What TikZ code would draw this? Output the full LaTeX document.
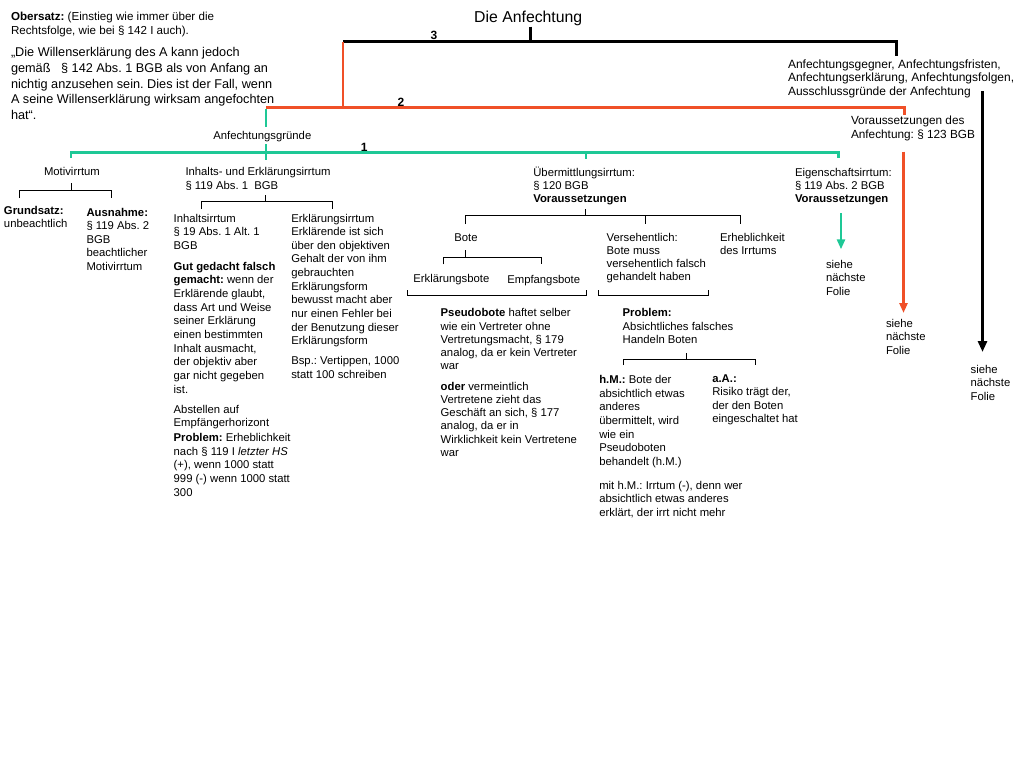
\documentclass[tikz,border=0pt]{standalone}
\usepackage{fontspec}
\setmainfont{Liberation Sans}
\usetikzlibrary{arrows.meta}
\definecolor{tealc}{RGB}{30,200,150}
\definecolor{orngc}{RGB}{240,80,40}
\newcommand\myfs[2]{\fontsize{#1}{#2}\selectfont\frenchspacing}
\newcommand\ms{\rule{0pt}{11pt}}
\frenchspacing
\begin{document}
\begin{tikzpicture}[x=1pt,y=-1pt,
  txt/.style={anchor=north west, inner sep=0pt, outer sep=0pt, align=left},
  one/.style={anchor=base west, inner sep=0pt, outer sep=0pt, font=\myfs{11.3}{13.7}},
  num/.style={anchor=base, inner sep=0pt, outer sep=0pt, font=\myfs{12}{14}\bfseries},
  blk/.style={line width=3pt, black},
  org/.style={line width=2.5pt, orngc},
  tl/.style={line width=2.5pt, tealc},
  thin/.style={line width=0.9pt, black},
  tip/.style={-{Triangle[length=10pt,width=8pt]}},
  ]
\fill[white] (0,0) rectangle (1024,768);
\useasboundingbox (0,0) rectangle (1024,768);

% ---------- texts ----------
\node[txt, font=\myfs{11.6}{14.5}] (obersatz) at (11,9.5)
  {\ms\textbf{Obersatz:} (Einstieg wie immer über die\\ Rechtsfolge, wie bei § 142 I auch).};
\node[txt, font=\myfs{12.7}{15.7}] (quote) at (11,45.7)
  {\ms„Die Willenserklärung des A kann jedoch\\ gemäß~~~§ 142 Abs. 1 BGB als von Anfang an\\ nichtig anzusehen sein. Dies ist der Fall, wenn\\ A seine Willenserklärung wirksam angefochten\\ hat“.};
\node[anchor=base west, inner sep=0pt, font=\myfs{15.8}{18}] (title) at (474,22.7) {Die Anfechtung};
\node[num] (n3) at (434,39.3) {3};
\node[num] (n2) at (401,106) {2};
\node[num] (n1) at (364.3,151) {1};

\node[txt, font=\myfs{12}{13.4}] (gegner) at (788,57.3)
  {\ms Anfechtungsgegner, Anfechtungsfristen,\\ Anfechtungserklärung, Anfechtungsfolgen,\\ Ausschlussgründe der Anfechtung};
\node[txt, font=\myfs{11.8}{14}] (vor123) at (851,113.3)
  {\ms Voraussetzungen des\\ Anfechtung: § 123 BGB};
\node[one] (gruende) at (213.3,139.3) {Anfechtungsgründe};

\node[one] (motiv) at (44,175.3) {Motivirrtum};
\node[txt, font=\myfs{11.3}{13.7}] (inhalts) at (185.5,164.3)
  {\ms Inhalts- und Erklärungsirrtum\\ § 119 Abs. 1~~BGB};
\node[txt, font=\myfs{11.3}{13.2}] (uebermitt) at (533.3,165)
  {\ms Übermittlungsirrtum:\\ § 120 BGB\\ \textbf{Voraussetzungen}};
\node[txt, font=\myfs{11.3}{13.2}] (eigen) at (795,165)
  {\ms Eigenschaftsirrtum:\\ § 119 Abs. 2 BGB\\ \textbf{Voraussetzungen}};

\node[txt, font=\myfs{11.3}{13}] (grundsatz) at (4,203.7)
  {\ms\textbf{Grundsatz:}\\ unbeachtlich};
\node[txt, font=\myfs{11.3}{13.5}] (ausnahme) at (86.5,205)
  {\ms\textbf{Ausnahme:}\\ § 119 Abs. 2\\ BGB\\ beachtlicher\\ Motivirrtum};

\node[txt, font=\myfs{11.3}{13.7}] (inhaltsirrtum) at (173.7,211)
  {\ms Inhaltsirrtum\\ § 19 Abs. 1 Alt. 1\\ BGB\\[6.9pt]
   \textbf{Gut gedacht falsch}\\ \textbf{gemacht:} wenn der\\ Erklärende glaubt,\\ dass Art und Weise\\ seiner Erklärung\\ einen bestimmten\\ Inhalt ausmacht,\\ der objektiv aber\\ gar nicht gegeben\\ ist.\\[6pt]
   Abstellen auf\\ Empfängerhorizont\\[0.9pt]
   \textbf{Problem:} Erheblichkeit\\ nach § 119 I \textit{letzter HS}\\ (+), wenn 1000 statt\\ 999 (-) wenn 1000 statt\\ 300};
\node[txt, font=\myfs{11.3}{13.65}] (erklirrtum) at (291.3,211)
  {\ms Erklärungsirrtum\\ Erklärende ist sich\\ über den objektiven\\ Gehalt der von ihm\\ gebrauchten\\ Erklärungsform\\ bewusst macht aber\\ nur einen Fehler bei\\ der Benutzung dieser\\ Erklärungsform\\[6.4pt]
   Bsp.: Vertippen, 1000\\ statt 100 schreiben};

\node[one] (bote) at (454.3,241.7) {Bote};
\node[txt, font=\myfs{11.3}{13}] (versehen) at (606.7,230)
  {\ms Versehentlich:\\ Bote muss\\ versehentlich falsch\\ gehandelt haben};
\node[txt, font=\myfs{11.3}{12.8}] (erheb) at (720,230.7)
  {\ms Erheblichkeit\\ des Irrtums};
\node[one] (erklbote) at (413.3,282.3) {Erklärungsbote};
\node[one] (empfbote) at (507.3,283.3) {Empfangsbote};

\node[txt, font=\myfs{11.3}{13.3}] (pseudo) at (440.7,305.7)
  {\ms\textbf{Pseudobote} haftet selber\\ wie ein Vertreter ohne\\ Vertretungsmacht, § 179\\ analog, da er kein Vertreter\\ war\\[6.8pt]
   \textbf{oder} vermeintlich\\ Vertretene zieht das\\ Geschäft an sich, § 177\\ analog, da er in\\ Wirklichkeit kein Vertretene\\ war};
\node[txt, font=\myfs{11.3}{13.3}] (problem) at (622.7,305.7)
  {\ms\textbf{Problem:}\\ Absichtliches falsches\\ Handeln Boten};
\node[txt, font=\myfs{11.3}{13.7}] (hm) at (599.3,372.3)
  {\ms\textbf{h.M.:} Bote der\\ absichtlich etwas\\ anderes\\ übermittelt, wird\\ wie ein\\ Pseudoboten\\ behandelt (h.M.)};
\node[txt, font=\myfs{11.3}{13.3}] (aa) at (712.3,371.5)
  {\ms\textbf{a.A.:}\\ Risiko trägt der,\\ der den Boten\\ eingeschaltet hat};
\node[txt, font=\myfs{11.3}{13.8}] (mithm) at (599.3,478)
  {\ms mit h.M.: Irrtum (-), denn wer\\ absichtlich etwas anderes\\ erklärt, der irrt nicht mehr};

\node[txt, font=\myfs{11.3}{13.4}] (siehe1) at (826,257.3) {\ms siehe\\ nächste\\ Folie};
\node[txt, font=\myfs{11.3}{13.5}] (siehe2) at (886,316.3) {\ms siehe\\ nächste\\ Folie};
\node[txt, font=\myfs{11.3}{13.5}] (siehe3) at (970.7,362.3) {\ms siehe\\ nächste\\ Folie};

% ---------- coordinates ----------
\coordinate (titleS) at (530,26.7);
\coordinate (titleJ) at (530,41.7);
\coordinate (b3L) at (343.3,41.7);
\coordinate (b3R) at (896.7,41.7);
\coordinate (gegnerT) at (896.7,55.7);
\coordinate (o2T) at (343.3,41.7);
\coordinate (o2J) at (343.3,107.3);
\coordinate (o2L) at (266,107.3);
\coordinate (o2R) at (904.3,107.3);
\coordinate (vorT) at (904.3,115);
\coordinate (oArrS) at (903.5,151.5);
\coordinate (oArrE) at (903.5,313);
\coordinate (kArrS) at (982.5,91);
\coordinate (kArrE) at (982.5,352);
\coordinate (t1a) at (266,108.5);
\coordinate (t1b) at (266,126.7);
\coordinate (t1c) at (266,144.3);
\coordinate (t1d) at (266,160);
\coordinate (t1L) at (71,152.5);
\coordinate (t1Ld) at (71,158);
\coordinate (t1R) at (838.5,152.5);
\coordinate (t1Rd) at (838.5,158);
\coordinate (t1M) at (586,152.5);
\coordinate (t1Md) at (586,159);
\coordinate (tArrS) at (841,213.3);
\coordinate (tArrE) at (841,249.3);

% ---------- thick connectors ----------
\draw[blk] (titleS) -- (titleJ);
\draw[blk, line join=miter] (b3L) -- (b3R) -- (gegnerT);
\draw[orngc, line width=2pt] (o2T) -- (o2J);
\draw[org, line join=miter] (o2L) -- (o2R) -- (vorT);
\draw[org, tip] (oArrS) -- (oArrE);
\draw[blk, -{Triangle[length=11pt,width=9pt]}] (kArrS) -- (kArrE);
\draw[tl] (t1a) -- (t1b);
\draw[tl] (t1c) -- (t1d);
\draw[tl, line join=miter] (t1Ld) -- (t1L) -- (t1R) -- (t1Rd);
\draw[tl] (t1M) -- (t1Md);
\draw[tl, tip] (tArrS) -- (tArrE);

% ---------- thin brackets ----------
\draw[thin] (71,183) -- (71,190.3);
\draw[thin] (19,198) -- (19,190.3) -- (111,190.3) -- (111,198);
\draw[thin] (265,195) -- (265,201);
\draw[thin] (201,209) -- (201,201) -- (332.7,201) -- (332.7,209);
\draw[thin] (585.7,209) -- (585.7,215.7);
\draw[thin] (465.7,224) -- (465.7,215.7) -- (740,215.7) -- (740,224);
\draw[thin] (645,215.7) -- (645,224);
\draw[thin] (465.7,250) -- (465.7,257);
\draw[thin] (443.3,264.3) -- (443.3,257) -- (541.7,257) -- (541.7,264.3);
\draw[thin] (407.3,290) -- (407.3,295.7) -- (586.7,295.7) -- (586.7,290);
\draw[thin] (598.3,290) -- (598.3,295.7) -- (708.3,295.7) -- (708.3,290);
\draw[thin] (686.7,353) -- (686.7,359);
\draw[thin] (623.3,365) -- (623.3,359) -- (755,359) -- (755,365);
\end{tikzpicture}
\end{document}
